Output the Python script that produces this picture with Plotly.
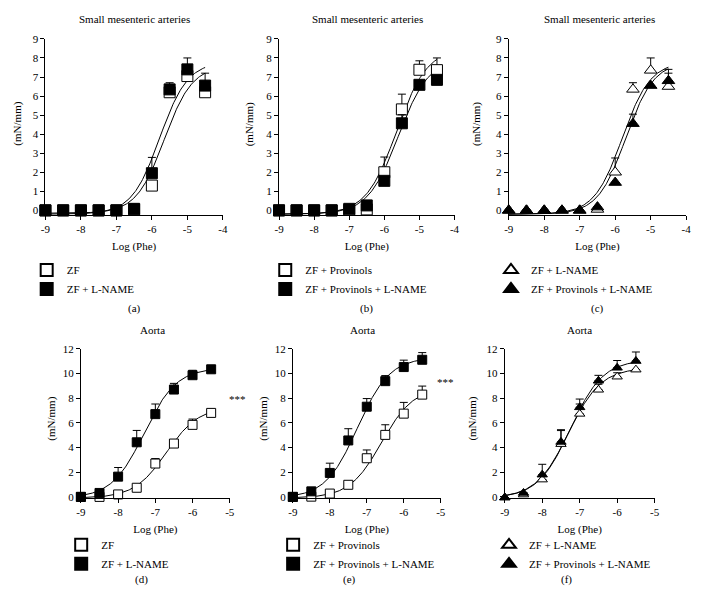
import numpy as np
import plotly.graph_objects as go

W, H = 703, 605
FONT = "Liberation Serif, Times New Roman, serif"

# ---------------- data ----------------
log_phe_sma = [-9, -8.5, -8, -7.5, -7, -6.5, -6, -5.5, -5, -4.5]
log_phe_aorta = [-9, -8.5, -8, -7.5, -7, -6.5, -6, -5.5]

# (a) small mesenteric arteries
a_zf = [0, 0, 0, 0, 0, 0.05, 1.3, 6.2, 7.05, 6.2]
a_zf_sem = [None] * 10
a_zf_lname = [0, 0, 0, 0, 0, 0.08, 1.95, 6.35, 7.4, 6.55]
a_zf_lname_sem = [None] * 6 + [0.83, 0.35, 0.6, 0.65]

# (b)
b_prov = [0, 0, 0, 0, 0.02, 0.05, 2.0, 5.3, 7.38, 7.36]
b_prov_sem = [None] * 6 + [0.8, 0.8, 0.47, 0.64]
b_prov_lname = [0, 0, 0, 0, 0.08, 0.26, 1.55, 4.57, 6.59, 6.85]
b_prov_lname_sem = [None] * 7 + [0.45, None, None]

# (c)
c_lname = [0, 0, 0, 0, 0, 0.05, 2.0, 6.35, 7.35, 6.5]
c_lname_sem = [None] * 6 + [0.75, 0.35, 0.65, 0.7]
c_prov_lname = [0, 0, 0, 0, 0, 0.17, 1.46, 4.55, 6.55, 6.8]
c_prov_lname_sem = [None] * 7 + [0.5, None, 0.6]

# (d) aorta
d_zf = [0, 0, 0.2, 0.74, 2.7, 4.32, 5.83, 6.8]
d_zf_sem = [None, None, None, None, 0.4, 0.32, 0.47, None]
d_zf_lname = [0, 0.32, 1.64, 4.42, 6.7, 8.69, 9.85, 10.33]
d_zf_lname_sem = [None, None, 0.74, 0.96, 0.82, 0.5, 0.4, None]

# (e)
e_prov = [0, 0.02, 0.27, 0.98, 3.13, 5.02, 6.74, 8.28]
e_prov_sem = [None, None, None, None, 0.67, 0.82, 0.91, 0.69]
e_prov_lname = [0, 0.45, 1.94, 4.57, 7.3, 9.37, 10.51, 11.1]
e_prov_lname_sem = [None, None, 0.79, 0.95, 0.66, 0.45, 0.56, 0.58]

# (f)
f_lname = [-0.05, 0.19, 1.4, 4.27, 6.72, 8.67, 9.73, 10.3]
f_lname_sem = [None, None, None, 1.1, 0.8, 0.45, 0.32, None]
f_prov_lname = [-0.05, 0.32, 1.8, 4.45, 7.25, 9.4, 10.45, 11.0]
f_prov_lname_sem = [None, None, 0.84, 0.99, 0.67, 0.44, 0.59, 0.73]

# sigmoidal fits: [bottom, top, logEC50, hill slope]
fit_a_zf = [-0.15, 7.6, -5.65, 1.1]
fit_a_zf_lname = [-0.2, 7.8, -5.78, 1.1]
fit_b_prov = [-0.2, 8.5, -5.65, 1.0]
fit_b_prov_lname = [-0.2, 8.0, -5.6, 1.0]
fit_c_lname = [-0.2, 7.8, -5.8, 1.1]
fit_c_prov_lname = [-0.2, 7.8, -5.7, 1.1]
fit_d_zf = [-0.1, 7.3, -6.7, 1.0]
fit_d_zf_lname = [-0.1, 10.45, -7.3, 1.0]
fit_e_prov = [-0.1, 8.9, -6.6, 1.0]
fit_e_prov_lname = [-0.1, 11.3, -7.25, 1.0]
fit_f_lname = [-0.1, 10.45, -7.3, 1.0]
fit_f_prov_lname = [-0.1, 11.1, -7.25, 1.0]

sma_yticks = [0, 1, 2, 3, 4, 5, 6, 7, 8, 9]
aorta_yticks = [0, 2, 4, 6, 8, 10, 12]
sma_xticks = [-9, -8, -7, -6, -5, -4]
aorta_xticks = [-9, -8, -7, -6, -5]

# ---------------- helpers ----------------
def hill(x, p):
    b, t, ec, h = p
    return b + (t - b) / (1 + 10 ** ((ec - x) * h))

def px_x(a, b):
    return [a / W, b / W]

def px_y(bottom, top):
    return [1 - bottom / H, 1 - top / H]

tickfont = dict(family=FONT, size=11, color="black")
txtfont = dict(family=FONT, size=11, color="black")

panels = [
    dict(title="Small mesenteric arteries", xd=(41, 221), yd=(213, 33.5), xr=[-9, -4], yr=[-0.25, 9],
         x=log_phe_sma, xt=sma_xticks, yt=sma_yticks, msize=11, symbol="square",
         series=[("ZF", a_zf, a_zf_sem, fit_a_zf, False), ("ZF + L-NAME", a_zf_lname, a_zf_lname_sem, fit_a_zf_lname, True)],
         leg=(47, 266), cap=(131, 308), cap_text="(a)", title_xy=(131, 13), ytitle_xy=(13, 120), stars=None),
    dict(title="Small mesenteric arteries", xd=(278, 456), yd=(213, 33.5), xr=[-9, -4], yr=[-0.25, 9],
         x=log_phe_sma, xt=sma_xticks, yt=sma_yticks, msize=11, symbol="square",
         series=[("ZF + Provinols", b_prov, b_prov_sem, fit_b_prov, False), ("ZF + Provinols + L-NAME", b_prov_lname, b_prov_lname_sem, fit_b_prov_lname, True)],
         leg=(289, 266), cap=(367, 308), cap_text="(b)", title_xy=(368, 13), ytitle_xy=(248, 120), stars=None),
    dict(title="Small mesenteric arteries", xd=(511, 691), yd=(213, 33.5), xr=[-9, -4], yr=[-0.25, 9],
         x=log_phe_sma, xt=sma_xticks, yt=sma_yticks, msize=11, symbol="triangle-up",
         series=[("ZF + L-NAME", c_lname, c_lname_sem, fit_c_lname, False), ("ZF + Provinols + L-NAME", c_prov_lname, c_prov_lname_sem, fit_c_prov_lname, True)],
         leg=(518, 266), cap=(601, 308), cap_text="(c)", title_xy=(603, 13), ytitle_xy=(479, 120), stars=None),
    dict(title="Aorta", xd=(77, 228), yd=(501, 349), xr=[-9, -5], yr=[-0.08, 12],
         x=log_phe_aorta, xt=aorta_xticks, yt=aorta_yticks, msize=9, symbol="square",
         series=[("ZF", d_zf, d_zf_sem, fit_d_zf, False), ("ZF + L-NAME", d_zf_lname, d_zf_lname_sem, fit_d_zf_lname, True)],
         leg=(82, 546), cap=(138, 584), cap_text="(d)", title_xy=(150, 330), ytitle_xy=(47, 420), stars=(236, 400)),
    dict(title="Aorta", xd=(292, 442), yd=(501, 349), xr=[-9, -5], yr=[-0.08, 12],
         x=log_phe_aorta, xt=aorta_xticks, yt=aorta_yticks, msize=9, symbol="square",
         series=[("ZF + Provinols", e_prov, e_prov_sem, fit_e_prov, False), ("ZF + Provinols + L-NAME", e_prov_lname, e_prov_lname_sem, fit_e_prov_lname, True)],
         leg=(297, 546), cap=(349, 584), cap_text="(e)", title_xy=(363, 330), ytitle_xy=(262, 420), stars=(447, 383)),
    dict(title="Aorta", xd=(507, 659), yd=(501, 349), xr=[-9, -5], yr=[-0.08, 12],
         x=log_phe_aorta, xt=aorta_xticks, yt=aorta_yticks, msize=9, symbol="triangle-up",
         series=[("ZF + L-NAME", f_lname, f_lname_sem, fit_f_lname, False), ("ZF + Provinols + L-NAME", f_prov_lname, f_prov_lname_sem, fit_f_prov_lname, True)],
         leg=(516, 546), cap=(570, 584), cap_text="(f)", title_xy=(583, 330), ytitle_xy=(474, 420), stars=None),
]

fig = go.Figure()
layout = dict(
    width=W, height=H, margin=dict(l=0, r=0, t=0, b=0),
    paper_bgcolor="white", plot_bgcolor="rgba(0,0,0,0)",
    font=txtfont, annotations=[],
)

def ann(text, xy, angle=0):
    return dict(text=text, x=xy[0] / W, y=1 - xy[1] / H, xref="paper", yref="paper",
                showarrow=False, xanchor="center", yanchor="middle", textangle=angle, font=txtfont)

for i, p in enumerate(panels):
    n = "" if i == 0 else str(i + 1)
    xa, ya = "x" + n, "y" + n
    legname = "legend" + n
    xgrid = np.linspace(p["x"][0], p["x"][-1], 200)
    for name, vals, sem, fit, filled in p["series"]:
        fig.add_trace(go.Scatter(x=xgrid, y=hill(xgrid, fit), mode="lines",
                                 line=dict(color="black", width=1), showlegend=False,
                                 hoverinfo="skip", xaxis=xa, yaxis=ya))
    for name, vals, sem, fit, filled in p["series"]:
        fig.add_trace(go.Scatter(
            x=p["x"], y=vals, mode="markers", name=name, legend=legname,
            marker=dict(symbol=p["symbol"], size=p["msize"], color="black" if filled else "white",
                        line=dict(color="black", width=1)),
            error_y=dict(type="data", symmetric=False, array=sem,
                         arrayminus=[0 if s is not None else None for s in sem],
                         color="black", thickness=1, width=4),
            cliponaxis=False, xaxis=xa, yaxis=ya))

    layout["xaxis" + n] = dict(
        domain=px_x(*p["xd"]), range=p["xr"], anchor=ya,
        tickvals=p["xt"], ticktext=[str(v) for v in p["xt"]],
        showline=True, linecolor="black", linewidth=1, ticks="outside", ticklen=4,
        tickcolor="black", tickwidth=1, showgrid=False, zeroline=False, tickfont=tickfont,
        title=dict(text="Log (Phe)", font=txtfont, standoff=7 if i < 3 else 8),
    )
    layout["yaxis" + n] = dict(
        domain=px_y(*p["yd"]), range=p["yr"], anchor=xa,
        tickvals=p["yt"], ticktext=[str(v) for v in p["yt"]],
        showline=True, linecolor="black", linewidth=1, ticks="outside", ticklen=4,
        tickcolor="black", tickwidth=1, showgrid=False, zeroline=False, tickfont=tickfont,
    )
    lx, ly = p["leg"]
    layout[legname] = dict(
        x=(lx - 25) / W, y=1 - (ly - 12) / H, xanchor="left", yanchor="top",
        bgcolor="rgba(0,0,0,0)", borderwidth=0, tracegroupgap=0,
        font=txtfont, itemsizing="constant",
    )
    layout["annotations"].append(ann(p["title"], p["title_xy"]))
    layout["annotations"].append(ann("(mN/mm)", p["ytitle_xy"], -90))
    layout["annotations"].append(ann(p["cap_text"], p["cap"]))
    if p["stars"]:
        layout["annotations"].append(ann("***", p["stars"]))

fig.update_layout(**layout)
fig.write_html("out.html", config={"displayModeBar": False},
               post_script="document.body.style.margin='0';")
